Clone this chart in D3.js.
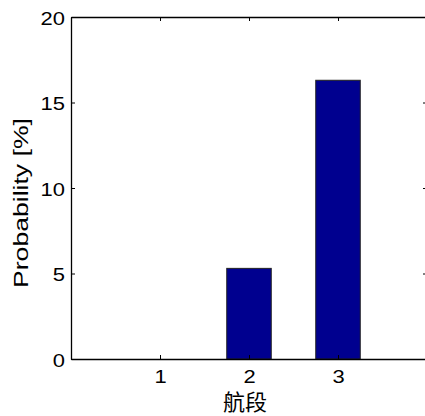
<!DOCTYPE html>
<html>
<head>
<meta charset="utf-8">
<script src="https://cdn.jsdelivr.net/npm/d3@7"></script>
<style>
  body { margin: 0; background: #fff; }
  svg { display: block; }
  text { font-family: "Liberation Sans", Arial, sans-serif; fill: #000; }
</style>
</head>
<body>
<div id="chart"></div>
<script>
var categories = [1, 2, 3];
var probability = [0, 5.3, 16.3];
var yTicks = [0, 5, 10, 15, 20];

var W = 425, H = 416,
    margin = {left: 71, top: 17},
    width = 356, height = 342;

var svg = d3.select('#chart').append('svg')
    .attr('width', W).attr('height', H);
var g = svg.append('g')
    .attr('transform', 'translate(' + margin.left + ',' + margin.top + ')');

var x = d3.scaleLinear().domain([0, 4]).range([0, width]);
var y = d3.scaleLinear().domain([0, 20]).range([height, 0]);
var barW = x(0.5) - x(0);

// bars
g.selectAll('rect.bar')
    .data(categories)
  .enter().append('rect')
    .attr('class', 'bar')
    .attr('x', function (d) { return x(d) - barW / 2; })
    .attr('width', barW)
    .attr('y', function (d, i) { return y(probability[i]); })
    .attr('height', function (d, i) { return y(0) - y(probability[i]); })
    .style('fill', '#00008f')
    .style('stroke', '#222')
    .style('stroke-width', 1);

// axes, ticks inward and mirrored on top/right
var fs = '18px', sx = 1.22; // matlab-ish wide glyphs
var xAxis = d3.axisBottom(x).tickValues(categories).tickSize(-4).tickSizeOuter(0)
    .tickPadding(11).tickFormat(d3.format('d'));
var xTop = d3.axisTop(x).tickValues(categories).tickSize(-4).tickSizeOuter(0).tickFormat('');
var yAxis = d3.axisLeft(y).tickValues(yTicks).tickSize(-4).tickSizeOuter(0)
    .tickPadding(6).tickFormat(d3.format('d'));
var yRight = d3.axisRight(y).tickValues(yTicks).tickSize(-4).tickSizeOuter(0).tickFormat('');

function style(sel) {
    sel.select('.domain').attr('stroke', '#000').attr('stroke-width', 1.3);
    sel.selectAll('.tick line').attr('stroke', '#000');
    sel.selectAll('.tick text').style('font-size', fs).attr('fill', '#000')
        .attr('x', function () { return +d3.select(this).attr('x') / sx; })
        .attr('transform', 'scale(' + sx + ',1)');
}
g.append('g').attr('transform', 'translate(0,' + height + ')').call(xAxis).call(style);
g.append('g').call(xTop).call(style);
g.append('g').call(yAxis).call(style)
    .selectAll('.tick text').attr('dy', '0.4em');
g.append('g').attr('transform', 'translate(' + width + ',0)').call(yRight).call(style);

// labels
g.append('text')
    .attr('x', x(2) - 4).attr('y', height + 51)
    .attr('text-anchor', 'middle')
    .style('font-family', '"Noto Sans CJK SC", sans-serif')
    .style('font-size', '22px')
    .text('航段');
g.append('text')
    .attr('transform', 'translate(' + (-43) + ',' + (height / 2 + 15) + ') rotate(-90)')
    .attr('text-anchor', 'middle')
    .attr('textLength', 170)
    .attr('lengthAdjust', 'spacingAndGlyphs')
    .style('font-size', '21px')
    .text('Probability [%]');
</script>
</body>
</html>
